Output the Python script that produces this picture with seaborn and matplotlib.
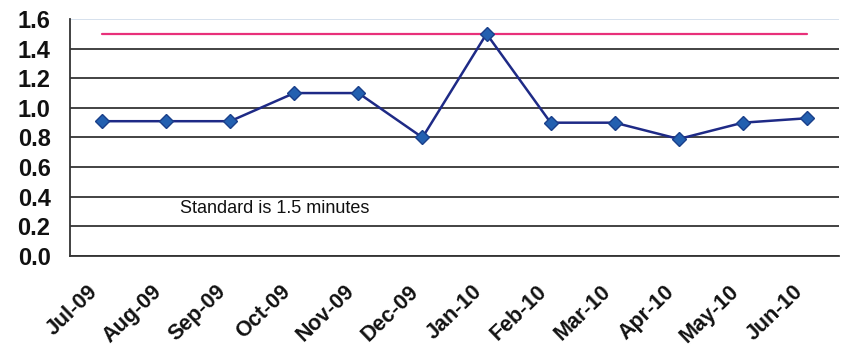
import matplotlib
matplotlib.use("Agg")
import matplotlib.pyplot as plt
import seaborn as sns
import pandas as pd

months = ["Jul-09", "Aug-09", "Sep-09", "Oct-09", "Nov-09", "Dec-09",
          "Jan-10", "Feb-10", "Mar-10", "Apr-10", "May-10", "Jun-10"]
minutes = [0.91, 0.91, 0.91, 1.10, 1.10, 0.80, 1.50, 0.90, 0.90, 0.79, 0.90, 0.93]
standard = [1.5] * len(months)
y_ticks = [0.0, 0.2, 0.4, 0.6, 0.8, 1.0, 1.2, 1.4, 1.6]
note = "Standard is 1.5 minutes"

df = pd.DataFrame({"month": months, "minutes": minutes, "standard": standard})
df["pos"] = range(len(months))

sns.set_theme(style="white")
plt.rcParams["font.family"] = ["Liberation Sans", "DejaVu Sans"]

fig = plt.figure(figsize=(8.47, 3.5), dpi=100)
ax = fig.add_axes([0.0826, 0.2686, 0.9906 - 0.0826, 0.9457 - 0.2686])

sns.lineplot(data=df, x="pos", y="standard", ax=ax, color="#E8307A",
             linewidth=1.6, sort=False)
sns.lineplot(data=df, x="pos", y="minutes", ax=ax, color="#1E2A86",
             linewidth=1.8, marker="D", markersize=7.5,
             markerfacecolor="#2360B0", markeredgecolor="#1A3F8A",
             markeredgewidth=1.0, sort=False)

ax.set_xlim(-0.5, len(months) - 0.5)
ax.set_ylim(0, 1.6)
ax.set_yticks(y_ticks)
ax.set_yticklabels([f"{v:.1f}" for v in y_ticks], fontsize=17,
                   fontweight="bold", color="#111111")

# category boundaries carry the tick marks, labels sit at the centres
ax.set_xticks([i - 0.5 for i in range(len(months) + 1)])
ax.set_xticklabels([])
ax.set_xticks(list(range(len(months))), minor=True)
ax.set_xticklabels(months, minor=True, rotation=44, ha="right",
                   fontsize=15.5, fontweight="bold", color="#111111")

ax.tick_params(axis="x", which="major", direction="out", length=6,
               width=1.2, color="#333333")
ax.tick_params(axis="x", which="minor", length=0, pad=18)
ax.tick_params(axis="y", direction="inout", length=14, width=1.2,
               color="#333333", pad=7)

ax.grid(axis="y", color="#222222", linewidth=1.2)
ax.get_ygridlines()[-1].set_color("#cfdcea")
ax.set_axisbelow(True)

for side in ["top", "right"]:
    ax.spines[side].set_visible(False)
for side in ["left", "bottom"]:
    ax.spines[side].set_color("#333333")
    ax.spines[side].set_linewidth(1.3)

ax.set_xlabel("")
ax.set_ylabel("")
ax.text(1.22, 0.32, note, fontsize=13, color="#111111", va="center")

fig.savefig("out.png", dpi=100)
